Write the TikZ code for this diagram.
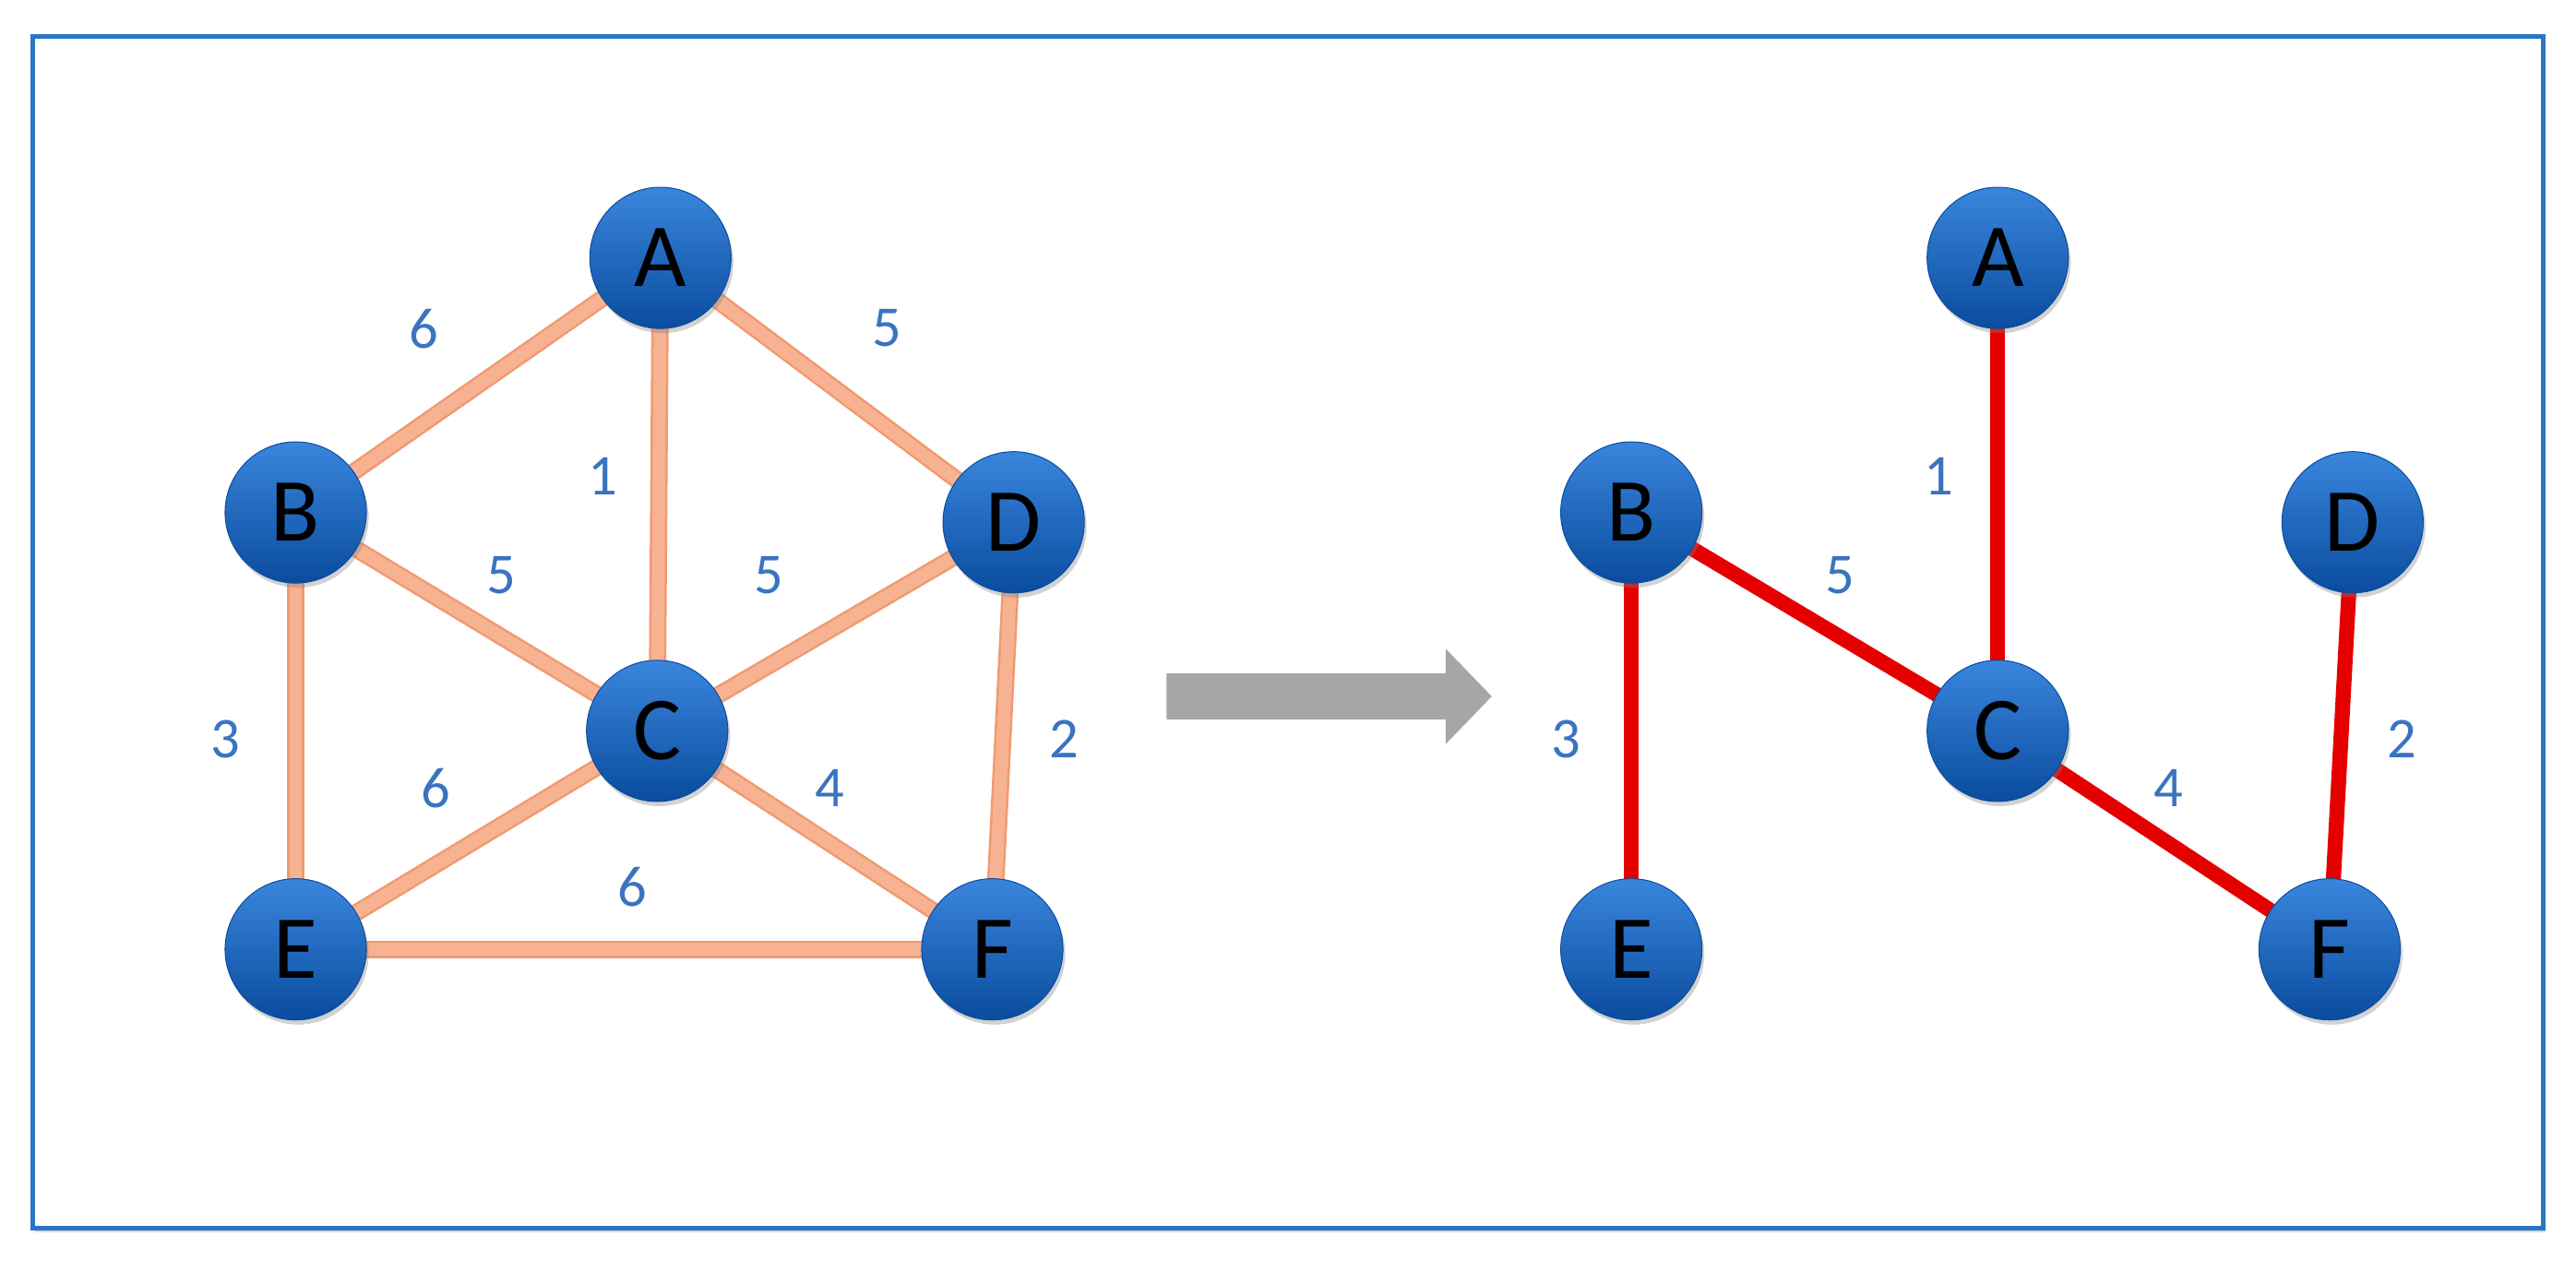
\documentclass[tikz,border=0pt]{standalone}
\usepackage{fontspec}
\setmainfont{Carlito}
\usetikzlibrary{shadows}
\definecolor{nbd}{HTML}{0A4C9E}
\definecolor{nbl}{HTML}{3A86DD}
\definecolor{lab}{HTML}{3A74C0}
\definecolor{ored}{HTML}{F7B291}
\definecolor{oredd}{HTML}{F09A72}
\definecolor{fr}{HTML}{2B74C6}
\begin{document}
\begin{tikzpicture}[x=0.05cm,y=-0.05cm,
  v/.style={circle,minimum size=4.3cm,inner sep=0pt,top color=nbl,bottom color=nbd,draw=nbd,line width=0.8pt,
    drop shadow={shadow xshift=2pt,shadow yshift=-4pt,opacity=0.35},
    font=\fontsize{78}{78}\selectfont,text=black},
  w/.style={font=\fontsize{50}{50}\selectfont,text=lab},
  oe/.style={line width=15pt,draw=oredd,postaction={draw=ored,line width=11pt}},
  re/.style={line width=13pt,draw=red!90!black}]
\useasboundingbox (0,0) rectangle (1568,774);
\fill[white] (0,0) rectangle (1568,774);
\draw[fr,line width=4pt,drop shadow={shadow xshift=2pt,shadow yshift=-3pt,opacity=0.3},fill=white] (20,22) rectangle (1548,748);
% left graph
\coordinate (A) at (402,157);
\coordinate (B) at (180,312);
\coordinate (D) at (617,318);
\coordinate (C) at (400,445);
\coordinate (E) at (180,578);
\coordinate (F) at (604,578);
\foreach \a/\b in {A/B,A/C,A/D,B/C,B/E,C/D,C/E,C/F,D/F,E/F}{\draw[oe] (\a)--(\b);}
\node[v] (nA) at (A) {A};
\node[v] (nB) at (B) {B};
\node[v] (nD) at (D) {D};
\node[v] (nC) at (C) {C};
\node[v] (nE) at (E) {E};
\node[v] (nF) at (F) {F};
\node[w] (l1) at (258,200) {6};
\node[w] (l2) at (540,200) {5};
\node[w] (l3) at (367,290) {1};
\node[w] (l4) at (305,350) {5};
\node[w] (l5) at (468,350) {5};
\node[w] (l6) at (137,450) {3};
\node[w] (l7) at (265,480) {6};
\node[w] (l8) at (505,480) {4};
\node[w] (l9) at (648,450) {2};
\node[w] (l10) at (385,540) {6};
% arrow
\fill[gray!70] (710,410) -- (880,410) -- (880,395) -- (908,424) -- (880,453) -- (880,438) -- (710,438) -- cycle;
% right graph
\coordinate (rA) at (1216,157);
\coordinate (rB) at (993,312);
\coordinate (rD) at (1432,318);
\coordinate (rC) at (1216,445);
\coordinate (rE) at (993,578);
\coordinate (rF) at (1418,578);
\foreach \a/\b in {rA/rC,rB/rC,rB/rE,rC/rF,rD/rF}{\draw[re] (\a)--(\b);}
\node[v] (A2) at (rA) {A};
\node[v] (B2) at (rB) {B};
\node[v] (D2) at (rD) {D};
\node[v] (C2) at (rC) {C};
\node[v] (E2) at (rE) {E};
\node[v] (F2) at (rF) {F};
\node[w] (m1) at (1180,290) {1};
\node[w] (m2) at (1120,350) {5};
\node[w] (m3) at (953,450) {3};
\node[w] (m4) at (1320,480) {4};
\node[w] (m5) at (1462,450) {2};
\end{tikzpicture}
\end{document}
